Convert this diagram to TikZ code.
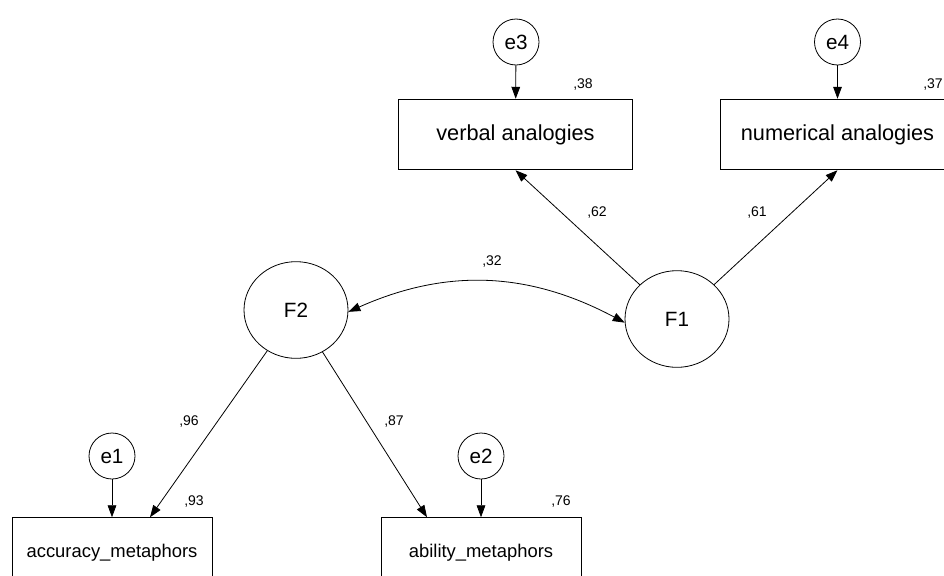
\documentclass[tikz,border=0pt]{standalone}
\usepackage{fontspec}
\setmainfont{Liberation Sans}
\usetikzlibrary{arrows.meta, shapes.geometric}

\begin{document}
\begin{tikzpicture}[x=0.75pt, y=-0.75pt, line width=0.6pt,
                obs/.style={draw, rectangle, minimum width=176pt, minimum height=53pt, inner sep=0pt},
                obsb/.style={obs, minimum width=150pt, font=\fontsize{13.8}{14}\selectfont},
                err/.style={draw, circle, minimum size=34.5pt, inner sep=0pt, font=\fontsize{15.5}{16}\selectfont},
                lat/.style={draw, ellipse, minimum width=78pt, minimum height=72.5pt, inner sep=0pt, font=\fontsize{15.5}{16}\selectfont},
                est/.style={inner sep=0pt, font=\fontsize{10.5}{11}\selectfont},
                reg/.style={-{Triangle[length=9pt, width=6.5pt]}},
                cov/.style={{Triangle[length=9pt, width=6.5pt]}-{Triangle[length=9pt, width=6.5pt]}}]
                \clip (0,0) rectangle (944,575);
                \node[obs, font=\fontsize{16.3}{17}\selectfont] (verbal) at (515.5,134.5) {verbal analogies};
                \node[obs, font=\fontsize{16.3}{17}\selectfont] (numerical) at (837.5,134.5) {numerical analogies};
                \node[obsb] (accuracy) at (112,553) {accuracy\_metaphors};
                \node[obsb] (ability) at (481,553) {ability\_metaphors};
                \node[err] (e3) at (516,42) {e3};
                \node[err] (e4) at (837.5,42) {e4};
                \node[err] (e1) at (112,456) {e1};
                \node[err] (e2) at (481,456) {e2};
                \node[lat] (F2) at (296,310) {F2};
                \node[lat] (F1) at (677,319) {F1};
                \draw[reg] (e3) -- (verbal);
                \draw[reg] (e4) -- (numerical);
                \draw[reg] (e1) -- (accuracy);
                \draw[reg] (e2) -- (ability);
                \draw[reg] (F1) -- (verbal.south);
                \draw[reg] (F1) -- (numerical.south);
                \draw[reg] (F2) -- ([xshift=28.5pt]accuracy.north);
                \draw[reg] (F2) -- ([xshift=-40.5pt]ability.north);
                \draw[cov] (F2.-2) to[out=24, in=152] (F1.184);
                \node[est] (r38) at (583,85) {,38};
                \node[est] (r37) at (933,85) {,37};
                \node[est] (w62) at (597,213) {,62};
                \node[est] (w61) at (757,213) {,61};
                \node[est] (c32) at (492,262) {,32};
                \node[est] (w96) at (189,421) {,96};
                \node[est] (w87) at (394,421) {,87};
                \node[est] (r93) at (194,501) {,93};
                \node[est] (r76) at (561,501) {,76};
            \end{tikzpicture}
\end{document}
